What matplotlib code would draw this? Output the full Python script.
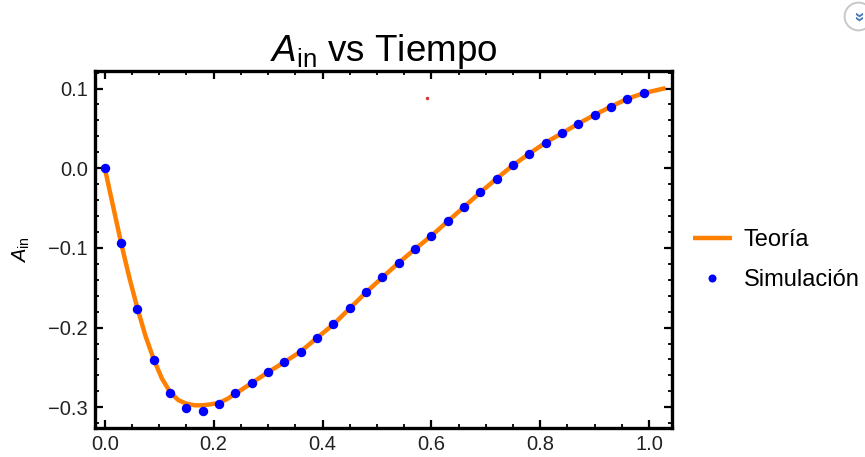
import matplotlib
matplotlib.use("Agg")
import matplotlib.pyplot as plt
from matplotlib.ticker import MultipleLocator, FuncFormatter
from matplotlib.lines import Line2D

plt.rcParams['font.family'] = ['Liberation Sans', 'DejaVu Sans']
plt.rcParams['mathtext.fontset'] = 'custom'
plt.rcParams['mathtext.rm'] = 'Liberation Sans'
plt.rcParams['mathtext.it'] = 'Liberation Sans:italic'

# Simulation points
sim_t = [0.00, 0.03, 0.06, 0.09, 0.12, 0.15, 0.18, 0.21, 0.24, 0.27, 0.30, 0.33,
         0.36, 0.39, 0.42, 0.45, 0.48, 0.51, 0.54, 0.57, 0.60, 0.63, 0.66, 0.69,
         0.72, 0.75, 0.78, 0.81, 0.84, 0.87, 0.90, 0.93, 0.96, 0.99]
sim_a = [0.000, -0.094, -0.177, -0.241, -0.2825, -0.3015, -0.3045, -0.2957,
         -0.2827, -0.2693, -0.2559, -0.2433, -0.2300, -0.2128, -0.1960, -0.1759,
         -0.1558, -0.1370, -0.1186, -0.1014, -0.0848, -0.0666, -0.0486, -0.0302,
         -0.0130, 0.0038, 0.0184, 0.0322, 0.0440, 0.0560, 0.0670, 0.0774,
         0.0871, 0.0942]

# Theory curve
th_t = [0.000, 0.030, 0.045, 0.060, 0.075, 0.090, 0.105, 0.120, 0.135, 0.150,
        0.165, 0.180, 0.195, 0.210, 0.225, 0.240, 0.270, 0.300, 0.330, 0.360,
        0.390, 0.420, 0.450, 0.480, 0.510, 0.540, 0.570, 0.600, 0.630, 0.660,
        0.690, 0.720, 0.750, 0.780, 0.810, 0.840, 0.870, 0.900, 0.930, 0.960,
        0.990, 1.030]
th_a = [0.000, -0.094, -0.137, -0.176, -0.211, -0.240, -0.264, -0.281, -0.291,
        -0.2955, -0.2975, -0.2975, -0.2962, -0.2945, -0.2895, -0.2830, -0.2695,
        -0.2559, -0.2433, -0.2300, -0.2128, -0.1960, -0.1759, -0.1558, -0.1370,
        -0.1186, -0.1014, -0.0848, -0.0666, -0.0486, -0.0302, -0.0130, 0.0038,
        0.0184, 0.0322, 0.0440, 0.0560, 0.0670, 0.0774, 0.0871, 0.0942, 0.1005]

legend_labels = ["Teoría", "Simulación"]

fig = plt.figure(figsize=(8.65, 4.57), dpi=100)
ax = fig.add_axes([95/865, 1-428/457, (672-95)/865, (428-71)/457])

ax.plot(th_t, th_a, color='#FF8000', lw=3.2, solid_capstyle='butt',
        label=legend_labels[0], zorder=2)
ax.plot(sim_t, sim_a, 'o', color='#0000FF', ms=6.8, mec='none',
        label=legend_labels[1], zorder=3)

ax.set_xlim(-0.018, 1.042)
ax.set_ylim(-0.326, 0.122)

fmt = FuncFormatter(lambda v, p: f"{v:.1f}".replace('-', '\u2212') if abs(v) > 1e-9 else "0.0")
ax.xaxis.set_major_locator(MultipleLocator(0.2))
ax.xaxis.set_minor_locator(MultipleLocator(0.05))
ax.yaxis.set_major_locator(MultipleLocator(0.1))
ax.yaxis.set_minor_locator(MultipleLocator(0.02))
ax.xaxis.set_major_formatter(fmt)
ax.yaxis.set_major_formatter(fmt)

for s in ax.spines.values():
    s.set_linewidth(2.4)
    s.set_color('black')

ax.tick_params(which='both', direction='in', top=True, right=True,
               labelsize=14.5, colors='black')
ax.tick_params(which='major', length=5.5, width=1.6, pad=5)
ax.tick_params(which='minor', length=3.2, width=1.3)
for lab in ax.get_xticklabels() + ax.get_yticklabels():
    lab.set_color('#222222')

ax.set_title(r'$A_{\mathrm{in}}$ vs Tiempo', fontsize=26.5, pad=4)
ax.set_ylabel(r'$A_{\mathrm{in}}$', fontsize=14.5, labelpad=12)

leg = ax.legend(loc='center left', bbox_to_anchor=(0.995, 0.47), frameon=False,
                fontsize=17, handlelength=1.65, handletextpad=0.5,
                labelspacing=0.75, markerscale=0.85, borderaxespad=0.6)

# screenshot artifacts
fig.add_artist(Line2D([427/865], [1-98/457], transform=fig.transFigure,
                      marker='o', ms=2.5, color='#E03030', mec='none', ls='none'))
fig.add_artist(Line2D([858/865], [1-16/457], transform=fig.transFigure,
                      marker='o', ms=20, mfc='none', mec='#C8C8C8', mew=1.4, ls='none'))
fig.text(858/865, 1-16/457, '»', rotation=-90, ha='center', va='center',
         fontsize=13, color='#4A78B8', fontweight='bold')

fig.savefig('out.png', dpi=100)
